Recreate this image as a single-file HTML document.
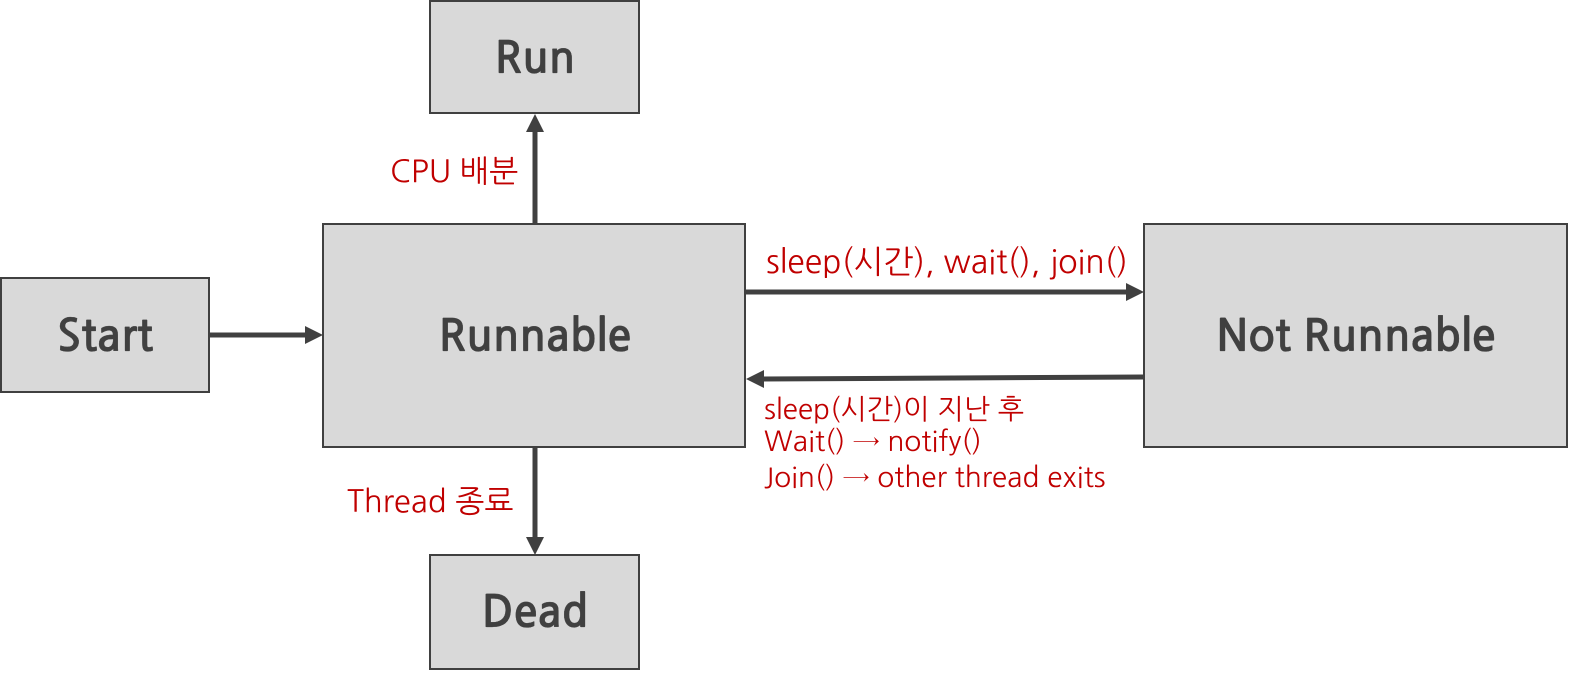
<!DOCTYPE html>
<html><head><meta charset="utf-8"><style>
html,body{margin:0;padding:0;background:#fff;overflow:hidden;width:1582px;height:676px}
svg{display:block}
.b{fill:#d9d9d9;stroke:#404040;stroke-width:2}
.t{font-family:"NanumGothic","Liberation Sans","Noto Sans CJK KR",sans-serif;font-weight:bold;font-size:44px;fill:#404040;stroke:#404040;stroke-width:0.3;text-anchor:middle}
.r{font-family:"NanumGothic","Liberation Sans","Noto Sans CJK KR",sans-serif;fill:#c00000}
.l{stroke:#404040;stroke-width:5;fill:none}
.h{fill:#404040}
</style></head><body>
<svg width="1582" height="676" viewBox="0 0 1582 676">
<rect class="b" x="430" y="1" width="209" height="112"/>
<rect class="b" x="323" y="224" width="422" height="223"/>
<rect class="b" x="1" y="278" width="208" height="114"/>
<rect class="b" x="1144" y="224" width="423" height="223"/>
<rect class="b" x="430" y="555" width="209" height="114"/>
<text class="t" x="535" y="73">Run</text>
<text class="t" x="535" y="351">Runnable</text>
<text class="t" x="105" y="351">Start</text>
<text class="t" x="1356" y="351">Not Runnable</text>
<text class="t" x="535" y="627">Dead</text>
<line class="l" x1="535" y1="224" x2="535" y2="130"/>
<polygon class="h" points="535,114 526,132 544,132"/>
<line class="l" x1="535" y1="447" x2="535" y2="540"/>
<polygon class="h" points="535,555 526,537 544,537"/>
<line class="l" x1="209" y1="335" x2="308" y2="335"/>
<polygon class="h" points="323,335 305,326 305,344"/>
<line class="l" x1="745" y1="292" x2="1128" y2="292"/>
<polygon class="h" points="1144,292 1126,283 1126,301"/>
<line class="l" x1="1144" y1="377" x2="762" y2="379"/>
<polygon class="h" points="746,379 764,370 764,388"/>
<text class="r" x="390" y="182" font-size="31">CPU 배분</text>
<text class="r" x="347" y="512" font-size="31">Thread 종료</text>
<text class="r" x="766" y="273" font-size="32">sleep(시간), wait(), join()</text>
<text class="r" x="764" y="419" font-size="28">sleep(시간)이 지난 후</text>
<text class="r" x="764" y="451" font-size="28">Wait() → notify()</text>
<text class="r" x="764" y="487" font-size="28">Join() → other thread exits</text>
</svg>
</body></html>
